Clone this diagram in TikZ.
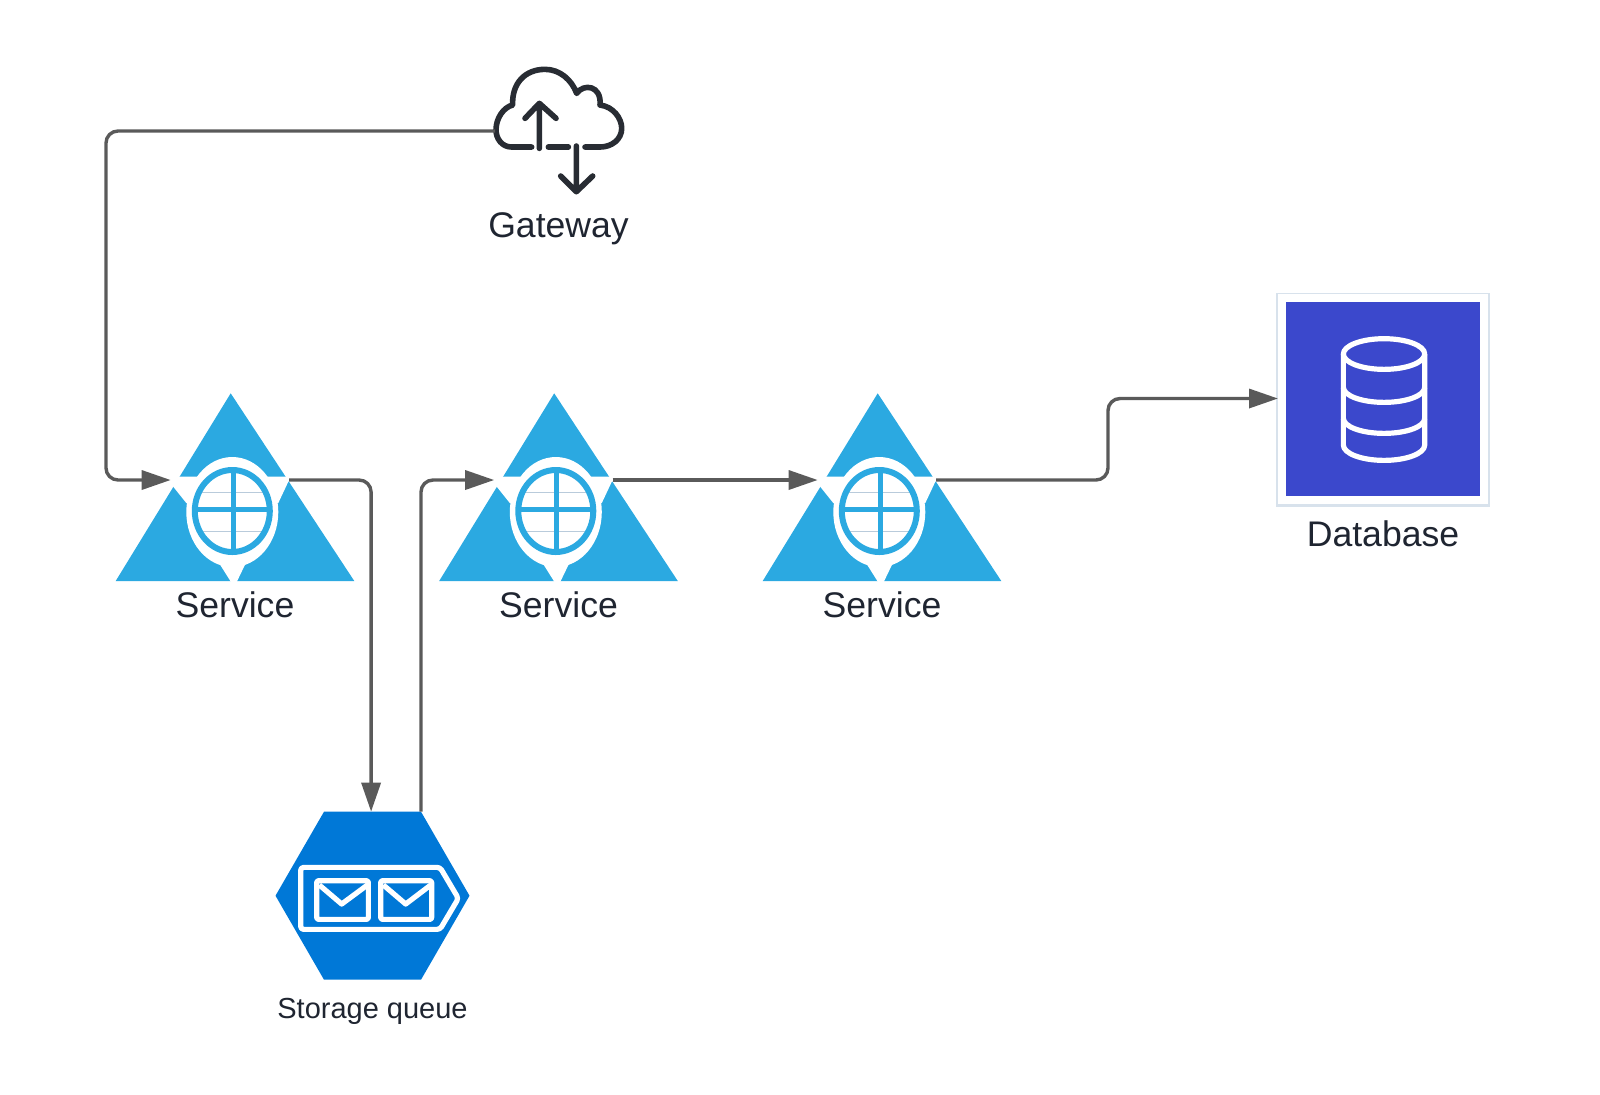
\documentclass[tikz,border=0pt]{standalone}
\usepackage{fontspec}
\setmainfont{Liberation Sans}
\usetikzlibrary{positioning,calc,arrows.meta,shapes.geometric,shadows}

\definecolor{linegray}{HTML}{5A5A5A}
\definecolor{textdark}{HTML}{1F2531}
\definecolor{svcblue}{HTML}{2BA9E1}
\definecolor{gridgray}{HTML}{B9CBDB}
\definecolor{queueblue}{HTML}{0078D7}
\definecolor{dbblue}{HTML}{3B48CC}
\definecolor{dbhalo}{HTML}{D8E2EC}
\definecolor{clouddark}{HTML}{282C33}

\tikzset{
	link/.style={draw=linegray, line width=1.7pt, rounded corners=6pt, -{Triangle[length=14.5pt,width=9.5pt]}},
	iconlabel/.style={text=textdark, inner sep=0pt, font=\fontsize{17.8}{20}\selectfont},
	smalllabel/.style={iconlabel, font=\fontsize{14.5}{17}\selectfont},
	iconline/.style={line width=2.6pt, line join=round},
	pics/serviceicon/.style={code={
		\fill[svcblue] (-116.6,70) -- (-1.6,-117.7) -- (122,70) -- cycle;
		\fill[white] (-62,-34.3) -- (63,-34.3) -- (56,-29.3) -- (46,-8) -- (-46,-8) -- (-59.6,-25) -- cycle;
		\fill[white] (0,1) ellipse [x radius=46, y radius=55];
		\fill[white] (-12,54) -- (-1.3,71) -- (4.4,71) -- (13.4,52.3) -- cycle;
		\draw[gridgray, line width=.7pt] (-32,-18.3) -- (32,-18.3) (-32,20.7) -- (32,20.7);
		\draw[svcblue, line width=3pt] (0,0) ellipse [x radius=37.5, y radius=41];
		\draw[svcblue, line width=2.5pt] (-37,-2) -- (37,-2) (.7,-41) -- (.7,41);
		\coordinate (-in) at (-61.6,-31);
		\coordinate (-out) at (56.7,-31);
		\node[iconlabel] (-label) at (2.7,94) {Service};
	}},
}

\begin{document}
\begin{tikzpicture}[x=.5pt, y=-.5pt]
	\useasboundingbox (0,0) rectangle (1600,1094);

	% icons
	\node[inner sep=0pt, minimum width=63.5pt, minimum height=40pt] (gateway) at (559,131) {};
	\pic (svcA) at (232.3,511) {serviceicon};
	\pic (svcB) at (555.8,511) {serviceicon};
	\pic (svcC) at (879.3,511) {serviceicon};
	\node[regular polygon, regular polygon sides=6, minimum size=97pt, inner sep=0pt, outer sep=0pt, fill=queueblue] (queue) at (372.5,895.7) {};
	\node[minimum size=101pt, inner sep=0pt, draw=white, line width=4pt, fill=dbblue,
		general shadow={fill=dbhalo, shadow xshift=0pt, shadow yshift=-.7pt, shadow scale=1.055}] (database) at (1383,398.5) {};

	% labels
	\node[iconlabel, below=9pt of queue, smalllabel] (queuelabel) {Storage queue};
	\node[iconlabel, below=8.5pt of database] (databaselabel) {Database};
	\node[iconlabel] (gatewaylabel) at (558.5,228.5) {Gateway};

	% cloud
	\begin{scope}[shift={(470,50)}, x=.1667pt, y=-.1667pt, draw=clouddark, iconline, line width=2.8pt, line cap=round]
		\draw (185,291) -- (125,291) .. controls (95,291) and (78,265) .. (78,240)
			.. controls (78,205) and (100,172) .. (128,165)
			.. controls (125,100) and (165,58) .. (225,58)
			.. controls (270,58) and (305,90) .. (320,130)
			.. controls (340,100) and (395,105) .. (390,165)
			.. controls (430,170) and (455,205) .. (455,235)
			.. controls (455,268) and (425,291) .. (390,291) -- (345,291);
		\draw (235,291) -- (295,291);
		\draw (208,295) -- (208,160) (165,205) -- (208,160) -- (258,205);
		\draw (319,288) -- (319,425) (272,378) -- (319,425) -- (368,378);
	\end{scope}

	% queue envelopes
	\begin{scope}[shift={(260,790)}, x=.1667pt, y=-.1667pt, draw=white, iconline]
		\draw[rounded corners=1.5pt] (122,232) -- (540,232) -- (595,325) -- (540,418) -- (122,418) -- cycle;
		\draw[rounded corners=1pt] (170,272) rectangle (325,388);
		\draw (178,285) -- (245,342) -- (322,285);
		\draw[rounded corners=1pt] (362,272) rectangle (515,388);
		\draw (370,285) -- (437,342) -- (512,285);
	\end{scope}

	% database cylinder
	\begin{scope}[shift={(1260,280)}, x=.1667pt, y=-.1667pt, draw=white, iconline]
		\draw (372,222) ellipse [x radius=122, y radius=46];
		\draw (250,222) -- (250,495) arc[start angle=180, end angle=0, x radius=122, y radius=46] -- (494,222);
		\draw (250,322) arc[start angle=180, end angle=0, x radius=122, y radius=45];
		\draw (250,415) arc[start angle=180, end angle=0, x radius=122, y radius=45];
	\end{scope}

	% connectors
	\coordinate (gatewaybend) at (106,300);
	\coordinate (databasebend) at (1108,440);
	\draw[link] (gateway.west) -| (gatewaybend) |- (svcA-in);
	\draw[link] (svcA-out) -| ([xshift=-.7pt]queue.north);
	\draw[link] (queue.corner 1) |- (svcB-in);
	\draw[link] (svcB-out) -- (svcC-in);
	\draw[link] (svcC-out) -| (databasebend) |- (database.west);
\end{tikzpicture}
\end{document}
